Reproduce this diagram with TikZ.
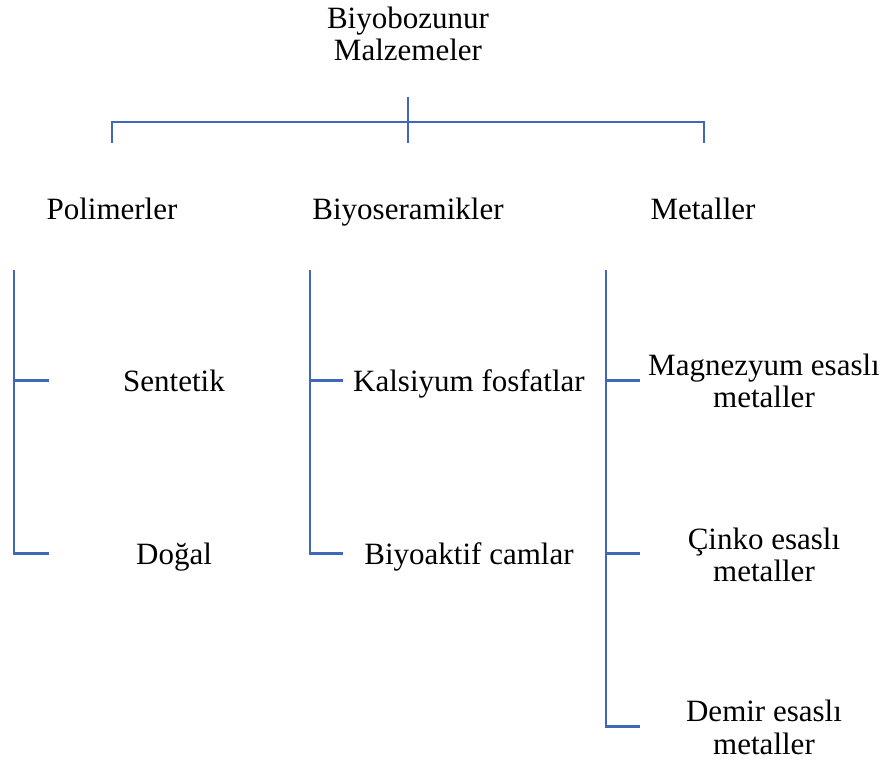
\documentclass[tikz,border=0pt]{standalone}
\usepackage{fontspec}
\setmainfont{Liberation Serif}
\definecolor{lc}{HTML}{4068BA}
\begin{document}
\begin{tikzpicture}[x=1pt,y=-1pt,
  ln/.style={draw=lc,line width=2.4pt},
  lab/.style={inner sep=0pt,anchor=base,font=\fontsize{31}{32.5}\selectfont,align=center},
  mlab/.style={inner sep=0pt,anchor=center,font=\fontsize{31}{32.5}\selectfont,align=center}]
\useasboundingbox (0,0) rectangle (890,762);
% header
\node[mlab] (root) at (408,33.9) {Biyobozunur\\Malzemeler};
\coordinate (rs) at (408,97);
\coordinate (rm) at (408,122);
\coordinate (rb) at (408,143);
\coordinate (rl) at (112,122);
\coordinate (rlb) at (112,143);
\coordinate (rr) at (704,122);
\coordinate (rrb) at (704,143);
\draw[ln] (rs) -- (rb);
\draw[ln] (rlb) -- (rl) -- (rr) -- (rrb);
% categories
\node[lab] (pol) at (112,219) {Polimerler};
\node[lab] (bio) at (408,219) {Biyoseramikler};
\node[lab] (met) at (703,219) {Metaller};
% polimerler
\node[lab] (sen) at (174,391) {Sentetik};
\node[lab] (dog) at (174,564) {Doğal};
\coordinate (p0) at (14,270);
\coordinate (p1) at (14,380.5);
\coordinate (p2) at (14,553.5);
\coordinate (p1e) at (49,380.5);
\coordinate (p2e) at (49,553.5);
\draw[ln] (p0) -- (p2) -- (p2e);
\draw[ln] (p1) -- (p1e);
% biyoseramikler
\node[lab] (kal) at (469,391) {Kalsiyum fosfatlar};
\node[lab] (cam) at (469,564) {Biyoaktif camlar};
\coordinate (b0) at (310,270);
\coordinate (b1) at (310,380.5);
\coordinate (b2) at (310,553.5);
\coordinate (b1e) at (343,380.5);
\coordinate (b2e) at (343,553.5);
\draw[ln] (b0) -- (b2) -- (b2e);
\draw[ln] (b1) -- (b1e);
% metaller
\node[mlab] (mag) at (764,380.8) {Magnezyum esaslı\\metaller};
\node[mlab] (cin) at (764,555) {Çinko esaslı\\metaller};
\node[mlab] (dem) at (764,727.6) {Demir esaslı\\metaller};
\coordinate (m0) at (606,270);
\coordinate (m1) at (606,380.5);
\coordinate (m2) at (606,553.5);
\coordinate (m3) at (606,726.5);
\coordinate (m1e) at (640,380.5);
\coordinate (m2e) at (640,553.5);
\coordinate (m3e) at (640,726.5);
\draw[ln] (m0) -- (m3) -- (m3e);
\draw[ln] (m1) -- (m1e);
\draw[ln] (m2) -- (m2e);
\end{tikzpicture}
\end{document}
